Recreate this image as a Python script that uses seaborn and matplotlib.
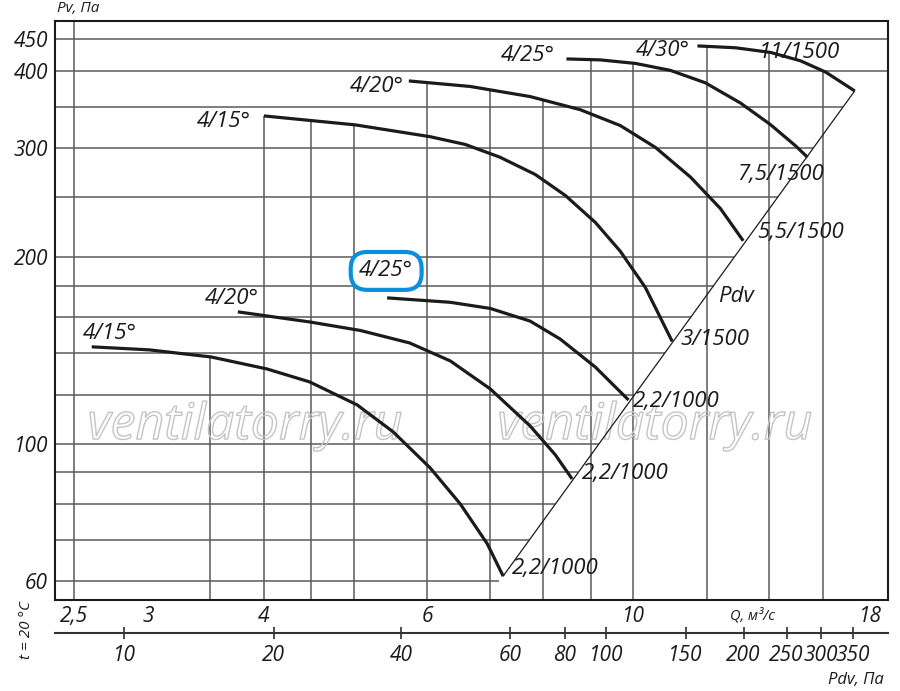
import numpy as np
import pandas as pd
import matplotlib
matplotlib.use("Agg")
import matplotlib.pyplot as plt
import seaborn as sns
from matplotlib import patheffects as pe
from matplotlib.ticker import NullLocator

# ---------------- data ----------------
q_415_low = [2.61, 3.01, 3.51, 4.03, 4.48, 5.04, 5.51, 6.04, 6.51, 6.96, 7.24]
pv_415_low = [143.4, 141.8, 138.1, 132.1, 125.9, 115.6, 104.6, 91.5, 80.0, 69.0, 61.2]

q_420_low = [3.75, 4.48, 5.08, 5.74, 6.35, 7.01, 7.74, 8.24, 8.59]
pv_420_low = [163.3, 157.3, 152.4, 145.5, 136.1, 122.7, 106.9, 96.0, 87.8]

q_425_low = [5.43, 6.35, 7.01, 7.74, 8.34, 9.10, 9.88]
pv_425_low = [172.0, 169.2, 165.4, 157.8, 147.6, 133.0, 117.7]

q_415_up = [4.0, 5.02, 6.04, 6.59, 7.18, 7.84, 8.45, 9.10, 9.68, 10.30, 11.01]
pv_415_up = [338.1, 327.0, 313.0, 304.1, 290.1, 272.0, 251.5, 227.6, 204.5, 178.8, 146.3]

q_420_up = [5.73, 6.67, 7.74, 8.76, 9.68, 10.56, 11.52, 12.41, 13.13]
pv_420_up = [385.0, 377.2, 363.3, 346.1, 326.2, 300.8, 269.4, 239.6, 212.6]

q_425_up = [8.47, 9.21, 10.05, 10.96, 11.95, 13.04, 14.05, 14.95, 15.40]
pv_425_up = [417.8, 416.3, 410.9, 400.4, 382.4, 354.7, 327.3, 302.5, 289.9]

q_430_up = [11.72, 12.88, 14.05, 15.14, 16.11, 17.31]
pv_430_up = [438.5, 435.5, 428.0, 414.8, 397.8, 371.0]

curve_names = ["415_low", "420_low", "425_low", "415_up", "420_up", "425_up", "430_up"]
curve_q = [q_415_low, q_420_low, q_425_low, q_415_up, q_420_up, q_425_up, q_430_up]
curve_pv = [pv_415_low, pv_420_low, pv_425_low, pv_415_up, pv_420_up, pv_425_up, pv_430_up]
start_labels = ["4/15°", "4/20°", "4/25°", "4/15°", "4/20°", "4/25°", "4/30°"]
end_labels = ["2,2/1000", "2,2/1000", "2,2/1000", "3/1500", "5,5/1500", "7,5/1500", "11/1500"]

# dynamic pressure line (Pdv)
q_pdv = [7.24, 17.31]
pv_pdv = [61.2, 371.0]

# axis ticks / grid
q_ticks = [2.5, 3, 4, 6, 10, 18]
q_tick_labels = ["2,5", "3", "4", "6", "10", "18"]
pv_ticks = [60, 100, 200, 300, 400, 450]
pv_tick_labels = ["60", "100", "200", "300", "400", "450"]
q_grid = [2.5, 3.5, 4, 4.5, 5, 6, 7, 8, 9, 10, 12, 14, 16]
pv_grid = [60, 70, 80, 90, 100, 120, 140, 160, 180, 200, 250, 300, 350, 400, 450]
pdv_tick_labels = ["10", "20", "40", "60", "80", "100", "150", "200", "250", "300", "350"]
pdv_tick_q = [2.83, 4.10, 5.62, 7.36, 8.43, 9.35, 11.38, 13.14, 14.62, 15.91, 17.22]

# ---------------- style ----------------
sns.set_style("white")
plt.rcParams["font.family"] = ["Open Sans", "DejaVu Sans"]
plt.rcParams["font.style"] = "italic"
INK = "#1b1b1b"
GRID = "#5a5a5a"

fig = plt.figure(figsize=(9.0, 6.91), dpi=100)
ax = fig.add_axes([55 / 900, 1 - 600 / 691, 833 / 900, 579 / 691])
ax.set_xscale("log")
ax.set_yscale("log")
xlim = (2.383, 18.8)
ylim = (56.0, 481.0)
ax.set_xlim(*xlim)
ax.set_ylim(*ylim)

# curves via seaborn
frames = []
for name, q, pv in zip(curve_names, curve_q, curve_pv):
    frames.append(pd.DataFrame({"curve": name, "Q": q, "Pv": pv}))
df = pd.concat(frames, ignore_index=True)
sns.lineplot(data=df, x="Q", y="Pv", hue="curve", palette=[INK] * len(curve_names),
             estimator=None, sort=False, legend=False, linewidth=2.3, ax=ax, zorder=5,
             solid_joinstyle="round", solid_capstyle="butt")
sns.lineplot(x=q_pdv, y=pv_pdv, color=INK, linewidth=0.9, ax=ax, zorder=5,
             estimator=None, sort=False)
ax.set_xlabel("")
ax.set_ylabel("")

# log-space helpers
lq_pdv = np.log10(q_pdv)
lp_pdv = np.log10(pv_pdv)
slope = (lp_pdv[1] - lp_pdv[0]) / (lq_pdv[1] - lq_pdv[0])


def q_on_pdv(pv):
    return 10 ** (lq_pdv[0] + (np.log10(pv) - lp_pdv[0]) / slope)


# horizontal grid: stop at the Pdv line
for pv in pv_grid:
    xmax = xlim[1] if pv > pv_pdv[1] else q_on_pdv(pv)
    ax.hlines(pv, xlim[0], xmax, color=GRID, linewidth=1.1, zorder=1)

# vertical grid: from bottom up to the highest curve
for qg in q_grid:
    top = ylim[1]
    vals = []
    for q, pv in zip(curve_q, curve_pv):
        if q[0] <= qg <= q[-1]:
            vals.append(10 ** np.interp(np.log10(qg), np.log10(q), np.log10(pv)))
    if vals:
        top = max(vals)
    ax.vlines(qg, ylim[0], top, color=GRID, linewidth=1.1, zorder=1)

# ticks
ax.set_xticks(q_ticks, labels=q_tick_labels)
ax.set_yticks(pv_ticks, labels=pv_tick_labels)
ax.xaxis.set_minor_locator(NullLocator())
ax.yaxis.set_minor_locator(NullLocator())
ax.tick_params(axis="x", length=0, pad=4, labelsize=15, colors=INK)
ax.tick_params(axis="y", length=0, pad=5, labelsize=15, colors=INK)
for s in ax.spines.values():
    s.set_visible(True)
    s.set_color(INK)
    s.set_linewidth(1.5)

# secondary Pdv axis
sec = ax.secondary_xaxis(-0.057)
sec.set_xticks(pdv_tick_q, labels=pdv_tick_labels)
sec.xaxis.set_minor_locator(NullLocator())
sec.tick_params(axis="x", direction="inout", length=9, width=1.1, pad=4, labelsize=15, colors=INK)
for k, s in sec.spines.items():
    s.set_visible(k == "bottom")
sec.spines["bottom"].set_linewidth(1.5)
sec.spines["bottom"].set_color("#333333")
sec.set_xlabel("")

# labels on curves
start_offsets = [(13, 9.4), (-4.3, 9.4), (-0.7, 19.4), (-28.8, -4.3), (-23, -4.3), (-28, 2.2), (-25.2, -3.6)]
end_offsets = [(6.5, 5.8), (7.2, 3.6), (2.9, -1.4), (5.8, 1.4), (10, 5.8), (-19.4, -12.2), (-39.6, 28)]
for i, (q, pv) in enumerate(zip(curve_q, curve_pv)):
    kw = {}
    if i == 2:
        kw["bbox"] = dict(boxstyle="round,pad=0.38,rounding_size=0.75", fc="white", ec="#0a8fdc", lw=3)
    ax.annotate(start_labels[i], (q[0], pv[0]), xytext=start_offsets[i], textcoords="offset points",
                ha="center", va="center", fontsize=16, color=INK, zorder=6, **kw)
    ha = "left" if end_offsets[i][0] > 0 else "center"
    ax.annotate(end_labels[i], (q[-1], pv[-1]), xytext=end_offsets[i], textcoords="offset points",
                ha=ha, va="center", fontsize=16, color=INK, zorder=6)

pv_lbl = 173.0
ax.annotate("Pdv", (q_on_pdv(pv_lbl), pv_lbl), xytext=(22, 0), textcoords="offset points",
            ha="center", va="center", fontsize=16, color=INK, zorder=6)

# watermarks
for xf in (0.228, 0.720):
    ax.text(xf, 0.30, "ventilatorry.ru", transform=ax.transAxes, ha="center", va="center",
            fontsize=36, color=(1, 1, 1, 0), zorder=3,
            path_effects=[pe.withStroke(linewidth=1.0, foreground="#c4c4c4")])

# axis titles
fig.text(78 / 900, 1 - 9 / 691, "Pv, Па", ha="center", va="center", fontsize=11, color=INK)
fig.text(752 / 900, 1 - 616 / 691, "Q, м³/с", ha="center", va="center", fontsize=10.5, color=INK)
fig.text(856 / 900, 1 - 680 / 691, "Pdv, Па", ha="center", va="center", fontsize=12, color=INK)
fig.text(27 / 900, 1 - 630 / 691, "t = 20 °C", ha="center", va="center", fontsize=11,
         rotation=90, color=INK)

fig.savefig("out.png", dpi=100)
